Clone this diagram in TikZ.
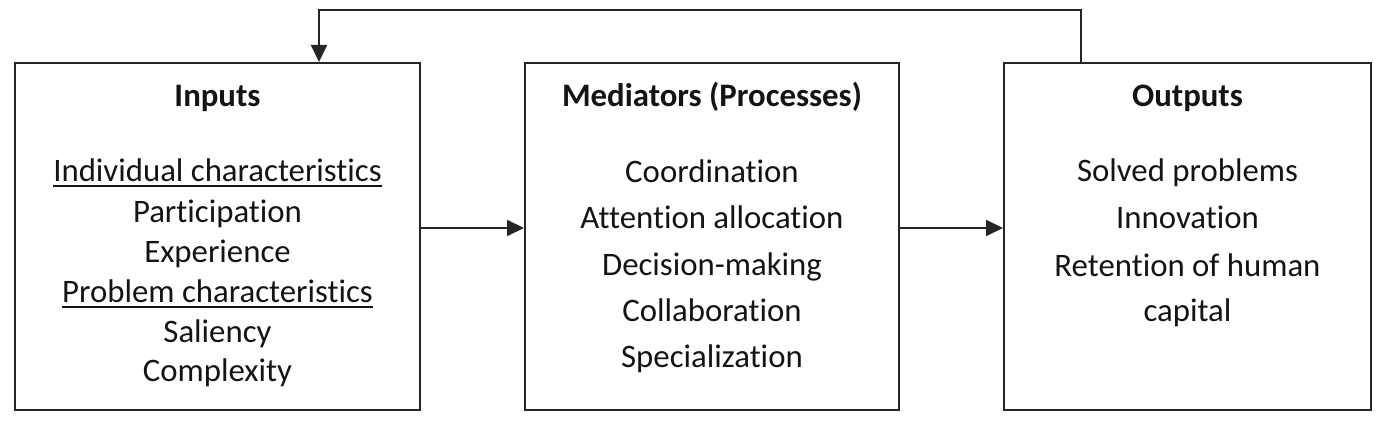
\documentclass[tikz,border=0pt]{standalone}
\usepackage{fontspec}
\setmainfont[Ligatures={NoCommon,NoContextual}]{Carlito}
\usetikzlibrary{arrows.meta}
\newcommand\myul[1]{\setbox0\hbox{#1}\rlap{\rule[-2.6pt]{\wd0}{0.9pt}}\box0}
\tikzset{
  box/.style={draw=black!85, line width=1pt, rectangle, inner sep=0pt},
  txt/.style={anchor=base, inner sep=0pt, font=\fontsize{16.4pt}{20pt}\selectfont, text=black!92},
  ttl/.style={txt, font=\fontsize{16.4pt}{20pt}\selectfont\bfseries},
  arr/.style={draw=black!85, line width=1pt, -{Triangle[length=8.5pt,width=8pt]}},
  ln/.style={draw=black!85, line width=1pt}
}
\begin{document}
\begin{tikzpicture}[x=0.5pt, y=-0.5pt]
\useasboundingbox (0,0) rectangle (1378,426);
% boxes
\node[box, minimum width=202.5pt, minimum height=173.5pt] (in) at (217.5,236.5) {};
\node[box, minimum width=187pt, minimum height=173.5pt] (med) at (712,236.5) {};
\node[box, minimum width=183.5pt, minimum height=173.5pt] (out) at (1187.5,236.5) {};
% inputs text
\node[ttl] (t1) at (217.5,107) {Inputs};
\node[txt] (i1) at (217.5,182) {\myul{Individual characteristics}};
\node[txt] (i2) at (217.5,223) {Participation};
\node[txt] (i3) at (217.5,263) {Experience};
\node[txt] (i4) at (217.5,303) {\myul{Problem characteristics}};
\node[txt] (i5) at (217.5,343) {Saliency};
\node[txt] (i6) at (217.5,382) {Complexity};
% mediators text
\node[ttl] (t2) at (712,107) {Mediators (Processes)};
\node[txt] (m1) at (712,183) {Coordination};
\node[txt] (m2) at (712,229) {Attention allocation};
\node[txt] (m3) at (712,276) {Decision-making};
\node[txt] (m4) at (712,322) {Collaboration};
\node[txt] (m5) at (712,368) {Specialization};
% outputs text
\node[ttl] (t3) at (1187.5,107) {Outputs};
\node[txt] (o1) at (1187.5,182) {Solved problems};
\node[txt] (o2) at (1187.5,229) {Innovation};
\node[txt] (o3) at (1187.5,277) {Retention of human};
\node[txt] (o4) at (1187.5,322) {capital};
% connectors
\coordinate (ay) at (0,228);
\draw[arr] (in.east |- ay) -- (med.west |- ay);
\draw[arr] (med.east |- ay) -- (out.west |- ay);
\coordinate (fbr) at (1081,10);
\coordinate (fbl) at (319,10);
\draw[arr] (out.north -| fbr) -- (fbr) -- (fbl) -- (in.north -| fbl);
\end{tikzpicture}
\end{document}
